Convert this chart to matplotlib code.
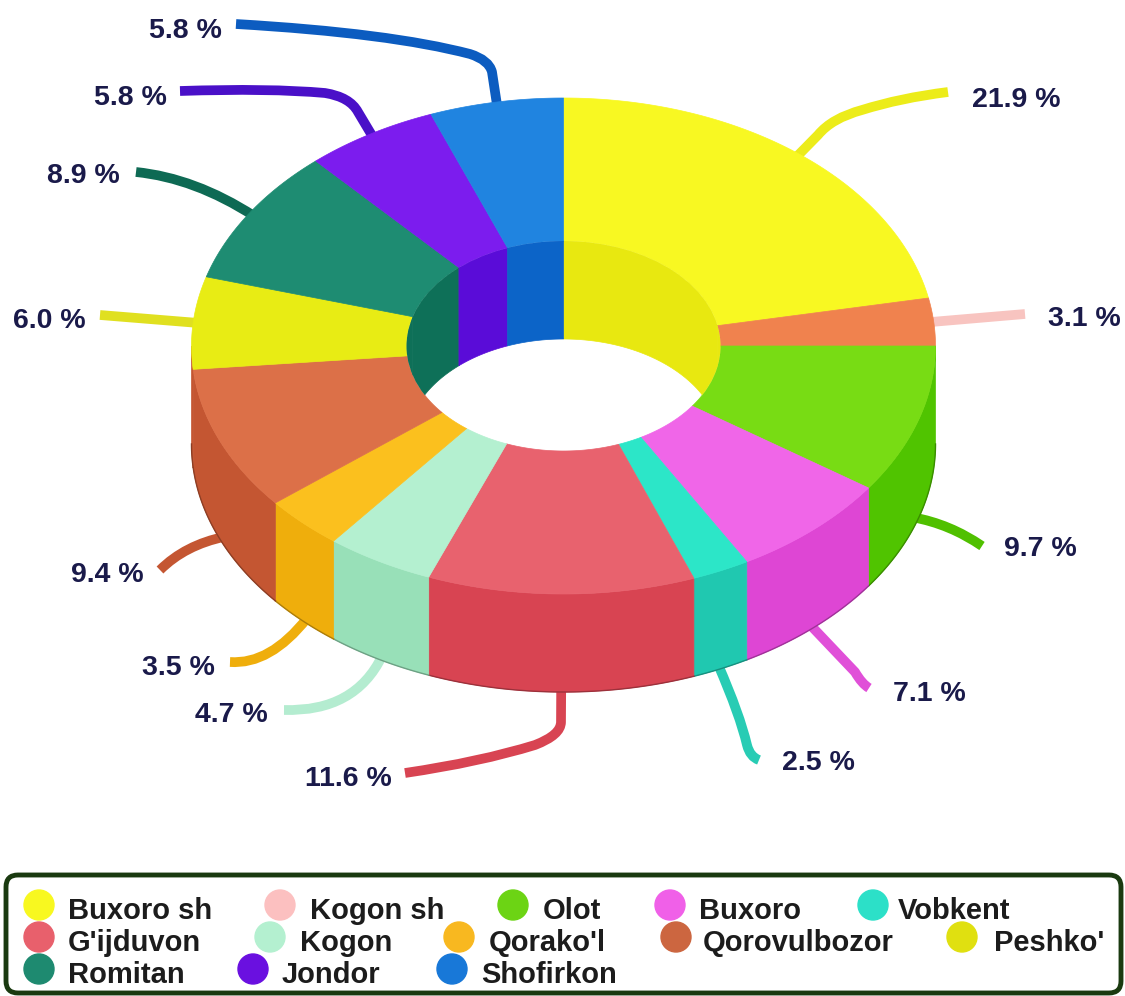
import numpy as np
import matplotlib
matplotlib.use("Agg")
import matplotlib.pyplot as plt
from matplotlib.colors import to_rgb
from matplotlib.patches import Polygon, Ellipse, Circle, FancyBboxPatch, PathPatch
from matplotlib.path import Path

plt.rcParams['font.family'] = ['Liberation Sans', 'DejaVu Sans']

# data
names = ["Buxoro sh", "Kogon sh", "Olot", "Buxoro", "Vobkent", "G'ijduvon", "Kogon",
         "Qorako'l", "Qorovulbozor", "Peshko'", "Romitan", "Jondor", "Shofirkon"]
shares = [21.9, 3.1, 9.7, 7.1, 2.5, 11.6, 4.7, 3.5, 9.4, 6.0, 8.9, 5.8, 5.8]

# colours
top_colors = ["#F8F822", "#F0824E", "#78DC14", "#F066E8", "#2CE6C8", "#E8626E", "#B4F0D0",
              "#FBC01E", "#DC7048", "#E8EC14", "#1E8C72", "#7C1CEE", "#2084E0"]
# Peshko' has only a sliver of outer wall, the original shows Qorovulbozor's colour there
side_colors = ["#D8D810", "#D86A3A", "#50C400", "#DE46D4", "#20C8B0", "#D84452", "#98E0B8",
               "#EFAE0C", "#C45632", "#C45632", "#0E7058", "#5A0CD8", "#0C64C8"]
# the hole wall: Kogon sh and Peshko' are hidden by their neighbours in the original
inner_colors = ["#E8E810", "#E8E810", "#50C400", "#DE46D4", "#20C8B0", "#D84452", "#98E0B8",
                "#EFAE0C", "#C45632", "#0E7058", "#0E7058", "#5A0CD8", "#0C64C8"]
legend_colors = ["#F8F820", "#FCC0C0", "#6CD414", "#F060E8", "#2CE0C8", "#E8606C", "#B4F0D0",
                 "#F8B820", "#CC6640", "#E0E010", "#1E8A70", "#6A10E0", "#1878D8"]
leader_colors = ["#ECEC1A", "#F8C4C0", "#50C000", "#E050D8", "#28CCB4", "#D84452", "#B4ECD0",
                 "#EFAE0C", "#C45632", "#E0E020", "#0E6A54", "#4A10C8", "#0C5CC0"]

# layout, in image pixels
cx, cy = 563.5, 346
rx_out, ry_out = 372, 248
rx_in, ry_in = 157, 105
depth = 98

label_pos = [(972, 100), (1048, 319), (1004, 549), (893, 694), (782, 763), (305, 779), (195, 715),
             (142, 668), (71, 575), (13, 321), (47, 176), (94, 98), (149, 31)]

# waypoints for each leader after it leaves the ring: ctrl, end pairs (None = straight)
leader_paths = [
    [(None, (818, 135)), ((832, 118), (862, 110)), ((900, 98), (948, 92))],
    [(None, (1025, 314))],
    [((950, 524), (982, 546))],
    [(None, (855, 672)), ((862, 684), (869, 688))],
    [((740, 715), (747, 745)), ((750, 757), (759, 760))],
    [(None, (561, 722)), ((561, 735), (535, 745)), ((480, 762), (405, 773))],
    [((355, 712), (284, 710))],
    [((270, 665), (230, 662))],
    [((185, 545), (160, 570))],
    [(None, (100, 315))],
    [((195, 178), (136, 172))],
    [(None, (358, 112)), ((350, 97), (325, 93)), ((270, 88), (180, 91))],
    [(None, (492, 72)), ((489, 60), (470, 54)), ((390, 33), (236, 24))],
]

legend_rows = [
    [(0, 39, 68), (1, 280, 310), (2, 513, 543), (3, 670, 699), (4, 873, 898)],
    [(5, 39, 68), (6, 270, 300), (7, 459, 489), (8, 676, 703), (9, 962, 994)],
    [(10, 39, 68), (11, 253, 282), (12, 452, 481)],
]
legend_y = [905, 937, 969]


def arc(t0, t1, rx, ry, dy=0, n=120):
    # angles in degrees, clockwise from 12 o'clock
    t = np.radians(np.linspace(t0, t1, n))
    return np.column_stack([cx + rx * np.sin(t), cy - ry * np.cos(t) + dy])


fig = plt.figure(figsize=(11.25, 9.96), dpi=100)
ax = fig.add_axes([0, 0, 1, 1])
ax.set_xlim(0, 1125)
ax.set_ylim(996, 0)
ax.axis("off")

edges = np.cumsum([0] + shares) * 3.6
edges[-1] = 360

# outer wall, front half only
for i in range(len(shares)):
    a, b = max(edges[i], 90), min(edges[i + 1], 270)
    if b <= a:
        continue
    pts = np.vstack([arc(a, b, rx_out, ry_out), arc(b, a, rx_out, ry_out, depth)])
    ax.add_patch(Polygon(pts, closed=True, fc=side_colors[i], ec=side_colors[i], lw=0.5, zorder=3))
    # dark rim along the bottom of the wall
    rim = arc(a, b, rx_out, ry_out, depth)
    ax.plot(rim[:, 0], rim[:, 1], color=np.array(to_rgb(side_colors[i])) * 0.72, lw=1, zorder=3)

# leaders go under the ring
for i, way in enumerate(leader_paths):
    mid = (edges[i] + edges[i + 1]) / 2
    start = arc(mid, mid, rx_out - 6, ry_out - 4, depth if 90 < mid < 270 else 0, n=1)[0]
    verts, codes = [tuple(start)], [Path.MOVETO]
    for ctrl, end in way:
        if ctrl is None:
            verts.append(end)
            codes.append(Path.LINETO)
        else:
            verts += [ctrl, end]
            codes += [Path.CURVE3, Path.CURVE3]
    ax.add_patch(PathPatch(Path(verts, codes), fc="none", ec=leader_colors[i], lw=7,
                           capstyle="butt", joinstyle="round", zorder=2))

# top face
for i in range(len(shares)):
    pts = np.vstack([arc(edges[i], edges[i + 1], rx_out, ry_out),
                     arc(edges[i + 1], edges[i], rx_in, ry_in)])
    ax.add_patch(Polygon(pts, closed=True, fc=top_colors[i], ec=top_colors[i], lw=0.5, zorder=4))

# wall of the hole, far half, cut by the hole's rim
hole = Ellipse((cx, cy), 2 * rx_in, 2 * ry_in, transform=ax.transData)
for i in range(len(shares)):
    for lo, hi in [(0, 90), (270, 360)]:
        a, b = max(edges[i], lo), min(edges[i + 1], hi)
        if b <= a:
            continue
        pts = np.vstack([arc(a, b, rx_in, ry_in), arc(b, a, rx_in, ry_in, depth)])
        p = Polygon(pts, closed=True, fc=inner_colors[i], ec=inner_colors[i], lw=0.5, zorder=5)
        ax.add_patch(p)
        p.set_clip_path(hole)

# percent labels
for i, (x, y) in enumerate(label_pos):
    ax.text(x, y, f"{shares[i]:.1f} %", fontsize=20.5, fontweight="bold", color="#1A1A4A",
            ha="left", va="center", zorder=6)

# legend box
ax.add_patch(FancyBboxPatch((6, 875), 1115, 118, boxstyle="round,pad=0,rounding_size=12",
                            fc="white", ec="#1A3A10", lw=3.5, zorder=6))
for row, y in zip(legend_rows, legend_y):
    for idx, mx, tx in row:
        ax.add_patch(Circle((mx, y), 15, fc=legend_colors[idx], ec=legend_colors[idx], lw=1, zorder=7))
        ax.text(tx, y + 6, names[idx], fontsize=21, fontweight="bold", color="#1C1C1C",
                ha="left", va="center", zorder=7)

fig.savefig("out.png", dpi=100, facecolor="white")
